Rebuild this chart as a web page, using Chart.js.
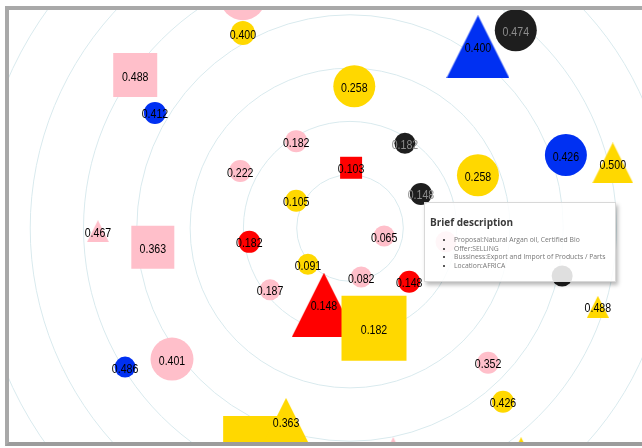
<!DOCTYPE html>
<html>
<head>
<meta charset="utf-8">
<script src="https://cdn.jsdelivr.net/npm/chart.js@4.4.1/dist/chart.umd.min.js"></script>
<style>
  html, body { margin: 0; padding: 0; background: #fff; overflow: hidden; width: 642px; height: 448px; }
  #frame {
    position: absolute; left: 5px; top: 6px; width: 700px; height: 432px;
    border: 4px solid #a9a9a9; border-bottom-color: #9c9c9c; overflow: hidden; background: #fff;
  }
  #frame canvas { position: absolute; left: -9px; top: -10px; }
  #brief {
    position: absolute; left: 424px; top: 202px; width: 190px; height: 78px;
    background: rgba(255,255,255,0.86); border: 1px solid #d8d8d8;
    box-shadow: 2px 3px 4px rgba(0,0,0,0.28); font-family: "Open Sans", sans-serif;
  }
  #brief .title { position: absolute; left: 5px; top: 13px; font-size: 10px; font-weight: bold; color: #3a3a3a; line-height: 12px; }
  #brief ul { position: absolute; left: 0; top: 33px; margin: 0; padding: 0 0 0 29px; font-size: 6.8px; line-height: 8.7px; color: #777; }
  #brief li { list-style: disc; }
  #brief li::marker { color: #222; }
</style>
</head>
<body>
<div id="frame"><canvas id="bubbles" width="642" height="448"></canvas></div>
<div id="brief">
  <div class="title">Brief description</div>
  <ul>
    <li>Proposal:Natural Argan oil, Certified Bio</li>
    <li>Offer:SELLING</li>
    <li>Bussiness:Export and Import of Products / Parts</li>
    <li>Location:AFRICA</li>
  </ul>
</div>
<script>
// position of each offer (distance from centre ~ score)
const offerX = [-0.201, -0.201, -0.403, -0.366, -0.101, -0.206, -0.101, 0.008, 0.240, 0.311,
                0.103, 0.002, 0.133, 0.240, 0.405, 0.493, -0.473, -0.370, -0.189, -0.079,
                0.064, -0.150, 0.021, 0.111, -0.049, 0.045, 0.180, 0.398, 0.465, 0.259,
                0.287, -0.422, -0.334, -0.178, -0.120, 0.081, 0.321];
const offerY = [0.433, 0.366, 0.287, 0.216, 0.163, 0.107, 0.051, 0.266, 0.340, 0.371,
                0.159, 0.113, 0.064, 0.099, 0.137, 0.122, -0.006, -0.036, -0.026, -0.068,
                -0.015, -0.116, -0.092, -0.101, -0.144, -0.188, -0.026, -0.090, -0.148, -0.253,
                -0.326, -0.261, -0.246, -0.413, -0.362, -0.417, -0.417];
const scores = [null, 0.400, 0.488, 0.412, 0.182, 0.222, 0.105, 0.258, 0.400, 0.474,
                0.182, 0.103, 0.148, 0.258, 0.426, 0.500, 0.467, 0.363, 0.182, 0.091,
                0.065, 0.187, 0.082, 0.148, 0.148, 0.182, null, null, 0.488, 0.352,
                0.426, 0.486, 0.401, null, 0.363, null, null];
const rings = [0.1, 0.2, 0.3, 0.4, 0.5, 0.6, 0.7];

// look of each offer: shape, colour, box size in px
const shapes = ['c','c','s','c','c','c','c','c','t','c',
                'c','s','c','c','c','t','t','s','c','c',
                'c','c','c','c','t','s','c','c','t','c',
                'c','c','c','s','t','t','t'];
const tones = ['pink','yellow','pink','blue','pink','pink','yellow','yellow','blue','black',
               'black','red','black','yellow','blue','yellow','pink','pink','red','yellow',
               'pink','pink','pink','red','red','yellow','pink','black','yellow','pink',
               'yellow','blue','pink','yellow','yellow','pink','yellow'];
const sizes = [46, 24, 44, 22, 22, 22, 22, 42, 63, 42,
               21, 22, 22, 42, 42, 41, 22, 43, 22, 21,
               21, 21, 21, 22, 64, 65, 21, 21, 22, 22,
               22, 21, 43, 64, 46, 26, 26];

const palette = { pink: '#ffbfca', yellow: '#ffd800', blue: '#0030f2', red: '#ff0000', black: '#1e1e1e' };

function triangle(w, color) {
    const c = document.createElement('canvas');
    c.width = w; c.height = w;
    const g = c.getContext('2d');
    g.fillStyle = color;
    g.beginPath();
    g.moveTo(w / 2, 0);
    g.lineTo(w, w);
    g.lineTo(0, w);
    g.closePath();
    g.fill();
    return c;
}

const styles = shapes.map((s, i) => s === 'c' ? 'circle' : (s === 's' ? 'rect' : triangle(sizes[i], palette[tones[i]])));
const radii = shapes.map((s, i) => s === 's' ? sizes[i] / Math.SQRT2 : sizes[i] / 2);

const ringPlugin = {
    id: 'rings',
    beforeDatasetsDraw(chart) {
        const ctx = chart.ctx, xs = chart.scales.x, ys = chart.scales.y;
        const cx = xs.getPixelForValue(0), cy = ys.getPixelForValue(0);
        ctx.save();
        ctx.strokeStyle = '#d9eaee';
        ctx.lineWidth = 1;
        rings.forEach(v => {
            ctx.beginPath();
            ctx.arc(cx, cy, xs.getPixelForValue(v) - cx, 0, Math.PI * 2);
            ctx.stroke();
        });
        ctx.restore();
    }
};

const labelPlugin = {
    id: 'scoreLabels',
    afterDatasetsDraw(chart) {
        const ctx = chart.ctx;
        const meta = chart.getDatasetMeta(0);
        ctx.save();
        ctx.font = '13px "Liberation Sans Narrow", "Liberation Sans", sans-serif';
        ctx.textAlign = 'center';
        ctx.textBaseline = 'middle';
        const sx = Math.min(1, 26.5 / ctx.measureText('0.488').width);
        meta.data.forEach((pt, i) => {
            if (scores[i] === null) return;
            ctx.fillStyle = tones[i] === 'black' ? '#8c8c8c' : '#000';
            ctx.save();
            ctx.translate(pt.x, pt.y + 2);
            ctx.scale(sx, 1);
            ctx.fillText(scores[i].toFixed(3), 0, 0);
            ctx.restore();
        });
        ctx.restore();
    }
};

new Chart(document.getElementById('bubbles'), {
    type: 'scatter',
    data: {
        datasets: [{
            data: offerX.map((x, i) => ({ x: x, y: offerY[i] })),
            pointStyle: styles,
            pointRadius: radii,
            backgroundColor: tones.map(t => palette[t]),
            borderWidth: 0,
            clip: false
        }]
    },
    options: {
        responsive: false,
        animation: false,
        events: [],
        layout: { padding: 0, autoPadding: false },
        plugins: { legend: { display: false }, tooltip: { enabled: false } },
        scales: {
            x: { type: 'linear', display: false, min: -0.6567, max: 0.5478 },
            y: { type: 'linear', display: false, min: -0.4128, max: 0.4278 }
        }
    },
    plugins: [ringPlugin, labelPlugin]
});
</script>
</body>
</html>
